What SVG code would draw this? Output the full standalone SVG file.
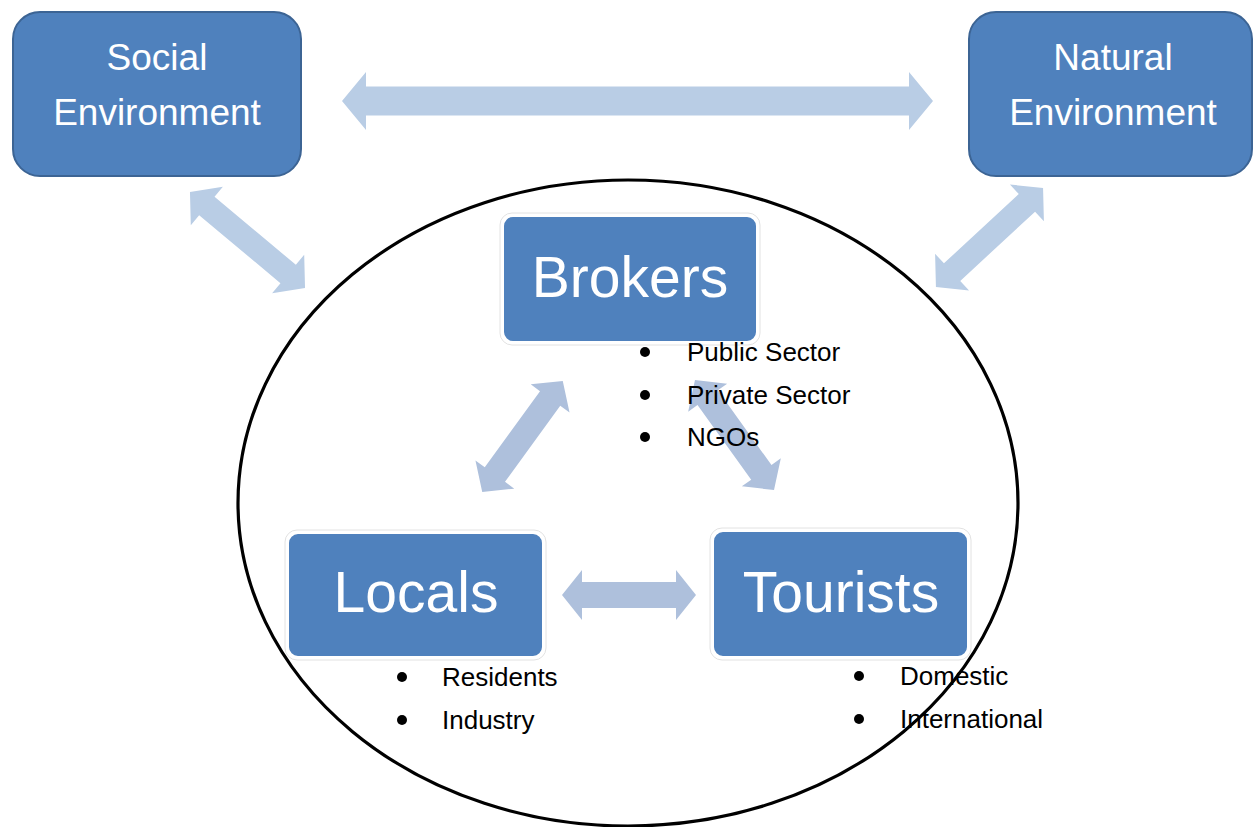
<svg xmlns="http://www.w3.org/2000/svg" width="1253" height="827" viewBox="0 0 1253 827">
<style>
.env{fill:#4F81BD;stroke:#3C6494;stroke-width:2}
.node{fill:#4F81BD;stroke:#FFFFFF;stroke-width:2}
.halo{fill:none;stroke:#E2E2E2;stroke-width:1}
.etxt{font-family:"Liberation Sans",Arial,sans-serif;font-size:37px;fill:#FFFFFF;text-anchor:middle}
.ntxt{font-family:"Liberation Sans",Arial,sans-serif;font-size:57px;fill:#FFFFFF;text-anchor:middle}
.btxt{font-family:"Liberation Sans",Arial,sans-serif;font-size:26px;fill:#000000}
.ea{fill:#B9CDE5}
.ia{fill:#AEC0DC}
</style>
<rect width="1253" height="827" fill="#FFFFFF"/>
<ellipse cx="628" cy="503" rx="390" ry="323" fill="none" stroke="#000000" stroke-width="3.2"/>
<g id="connectors">
<path class="ea" d="M 342 101 L 366 72 L 366 86.5 L 909 86.5 L 909 72 L 933 101 L 909 130 L 909 115.5 L 366 115.5 L 366 130 Z"/>
<path class="ea" transform="translate(247.5,240) rotate(39.9)" d="M -75 0 L -53 -25 L -53 -12 L 53 -12 L 53 -25 L 75 0 L 53 25 L 53 12 L -53 12 L -53 25 Z"/>
<path class="ea" transform="translate(989.5,237.5) rotate(-42.8)" d="M -73 0 L -51 -25 L -51 -12 L 51 -12 L 51 -25 L 73 0 L 51 25 L 51 12 L -51 12 L -51 25 Z"/>
<path class="ia" transform="translate(522.5,436.5) rotate(-54)" d="M -68.5 0 L -47 -24 L -47 -12.5 L 47 -12.5 L 47 -24 L 68.5 0 L 47 24 L 47 12.5 L -47 12.5 L -47 24 Z"/>
<path class="ia" transform="translate(734.5,435) rotate(54.3)" d="M -67.7 0 L -46 -24 L -46 -12.5 L 46 -12.5 L 46 -24 L 67.7 0 L 46 24 L 46 12.5 L -46 12.5 L -46 24 Z"/>
<path class="ia" d="M 562 595 L 582 570 L 582 582 L 676 582 L 676 570 L 696 595 L 676 620 L 676 608 L 582 608 L 582 620 Z"/>
</g>
<g id="social">
<rect class="env" x="13" y="12" width="288" height="164" rx="27"/>
<text class="etxt" x="157" y="70">Social</text>
<text class="etxt" x="157" y="125">Environment</text>
</g>
<g id="natural">
<rect class="env" x="969" y="12" width="283" height="164" rx="27"/>
<text class="etxt" x="1113" y="70">Natural</text>
<text class="etxt" x="1113" y="125">Environment</text>
</g>
<g id="brokers">
<rect class="halo" x="500" y="213" width="260" height="132" rx="12"/>
<rect class="node" x="503" y="216" width="254" height="126" rx="10"/>
<text class="ntxt" x="630" y="297">Brokers</text>
<circle cx="645" cy="352" r="5"/>
<text class="btxt" x="687" y="361">Public Sector</text>
<circle cx="645" cy="395" r="5"/>
<text class="btxt" x="687" y="404">Private Sector</text>
<circle cx="645" cy="437" r="5"/>
<text class="btxt" x="687" y="446">NGOs</text>
</g>
<g id="locals">
<rect class="halo" x="285" y="530" width="261" height="130" rx="12"/>
<rect class="node" x="288" y="533" width="255" height="124" rx="10"/>
<text class="ntxt" x="416" y="612">Locals</text>
<circle cx="402" cy="677" r="5"/>
<text class="btxt" x="442" y="686">Residents</text>
<circle cx="402" cy="720" r="5"/>
<text class="btxt" x="442" y="729">Industry</text>
</g>
<g id="tourists">
<rect class="halo" x="710" y="528" width="261" height="132" rx="12"/>
<rect class="node" x="713" y="531" width="255" height="126" rx="10"/>
<text class="ntxt" x="841" y="612">Tourists</text>
<circle cx="859" cy="676" r="5"/>
<text class="btxt" x="900" y="685">Domestic</text>
<circle cx="859" cy="719" r="5"/>
<text class="btxt" x="900" y="728">International</text>
</g>
</svg>
